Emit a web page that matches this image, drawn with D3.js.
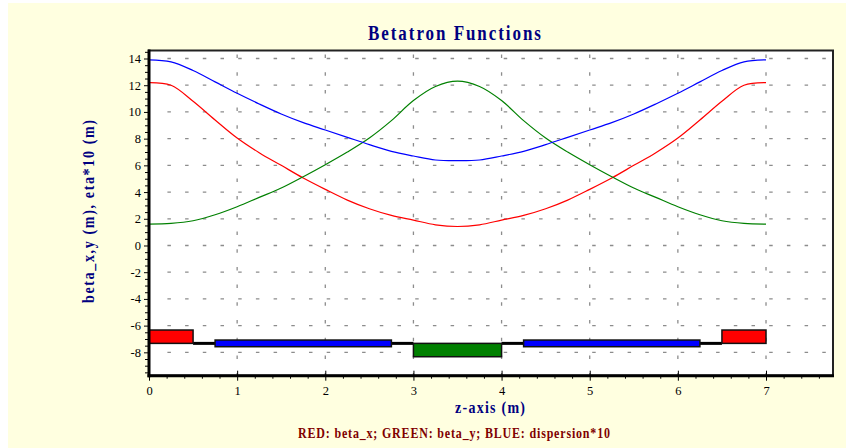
<!DOCTYPE html>
<html>
<head>
<meta charset="utf-8">
<script src="https://cdn.jsdelivr.net/npm/d3@7"></script>
<style>
  body { margin: 0; background: #fff; }
  svg { display: block; }
</style>
</head>
<body>
<div id="vis"></div>
<script>
// longitudinal position (m)
let zs = [0, 0.25, 0.5, 0.75, 1, 1.25, 1.5, 1.75, 2, 2.25, 2.5, 2.75, 3, 3.25, 3.5,
    3.75, 4, 4.25, 4.5, 4.75, 5, 5.25, 5.5, 5.75, 6, 6.25, 6.5, 6.75, 7];

// RED: beta_x
let betaX = [12.2, 12.0, 10.8, 9.4, 8.05, 6.95, 6.0, 5.05, 4.2, 3.4, 2.75, 2.25, 1.9, 1.55, 1.42,
    1.55, 1.9, 2.25, 2.75, 3.4, 4.2, 5.05, 6.0, 6.95, 8.05, 9.4, 10.8, 12.0, 12.2];

// GREEN: beta_y
let betaY = [1.6, 1.65, 1.85, 2.3, 2.9, 3.6, 4.3, 5.15, 6.05, 7.0, 8.05, 9.35, 10.85, 11.9, 12.3,
    11.9, 10.85, 9.35, 8.05, 7.0, 6.05, 5.15, 4.3, 3.6, 2.9, 2.3, 1.85, 1.65, 1.6];

// BLUE: dispersion*10
let disp = [13.9, 13.75, 13.1, 12.25, 11.4, 10.6, 9.85, 9.2, 8.65, 8.1, 7.55, 7.05, 6.7, 6.4, 6.35,
    6.4, 6.7, 7.05, 7.55, 8.1, 8.65, 9.2, 9.85, 10.6, 11.4, 12.25, 13.1, 13.75, 13.9];

// lattice elements drawn at the bottom
let elemStart = [0, 0.5, 0.75, 2.75, 3, 4, 4.25, 6.25, 6.5];
let elemEnd = [0.5, 0.75, 2.75, 3, 4, 4.25, 6.25, 6.5, 7];
let elemType = ['QF', 'D', 'B', 'D', 'QD', 'D', 'B', 'D', 'QF'];
let latticeBase = -7.33;

// tick values
let yMajor = [-8, -6, -4, -2, 0, 2, 4, 6, 8, 10, 12, 14];
let xMajor = [0, 1, 2, 3, 4, 5, 6, 7];

let W = 846, H = 448;

let svg = d3.select('#vis')
    .append('svg')
    .attr('width', W)
    .attr('height', H);

// light yellow panel
svg.append('rect')
    .attr('x', 8).attr('y', 3)
    .attr('width', W - 8).attr('height', H - 3)
    .attr('fill', '#ffffe0');

let x = d3.scaleLinear().domain([0, 7.76]).range([149, 833]);
let y = d3.scaleLinear().domain([-9.75, 14.6]).range([375.7, 50.5]);

// plot area
svg.append('rect')
    .attr('x', x(0)).attr('y', y(14.6))
    .attr('width', x(7.76) - x(0)).attr('height', y(-9.75) - y(14.6))
    .attr('fill', '#fff');

// grid (dashed)
let grid = svg.append('g')
    .attr('stroke', '#8c8c8c')
    .attr('stroke-width', 1.3)
    .attr('stroke-dasharray', '3.5,14.2');

grid.selectAll('line.h')
    .data(yMajor)
    .enter().append('line')
    .attr('class', 'h')
    .attr('x1', x(0) + 18.4).attr('x2', x(7.76))
    .attr('y1', d => y(d)).attr('y2', d => y(d));

grid.selectAll('line.v')
    .data(xMajor.slice(1))
    .enter().append('line')
    .attr('class', 'v')
    .attr('x1', d => x(d)).attr('x2', d => x(d))
    .attr('y1', y(14.6) + 4).attr('y2', y(-9.75));

// lattice: drifts, then magnets
let lattice = svg.append('g');
let idx = d3.range(elemType.length);

lattice.selectAll('line')
    .data(idx.filter(i => elemType[i] === 'D'))
    .enter().append('line')
    .attr('x1', i => x(elemStart[i])).attr('x2', i => x(elemEnd[i]))
    .attr('y1', y(latticeBase)).attr('y2', y(latticeBase))
    .attr('stroke', '#000')
    .attr('stroke-width', 3);

let elemTop = { QF: 1, QD: 0, B: 0.25 };
let elemBottom = { QF: 0, QD: -1, B: -0.25 };
let elemColor = { QF: '#ff0000', QD: '#008000', B: '#0000ff' };

lattice.selectAll('rect')
    .data(idx.filter(i => elemType[i] !== 'D'))
    .enter().append('rect')
    .attr('x', i => x(elemStart[i]))
    .attr('width', i => x(elemEnd[i]) - x(elemStart[i]))
    .attr('y', i => y(latticeBase + elemTop[elemType[i]]))
    .attr('height', i => y(latticeBase + elemBottom[elemType[i]]) - y(latticeBase + elemTop[elemType[i]]))
    .attr('fill', i => elemColor[elemType[i]])
    .attr('stroke', '#111')
    .attr('stroke-width', 1.5);

// curves
let line = d3.line()
    .x(d => x(d[0]))
    .y(d => y(d[1]))
    .curve(d3.curveCatmullRom.alpha(0.5));

let series = [
    { vals: betaX, color: '#ff0000' },
    { vals: betaY, color: '#008000' },
    { vals: disp, color: '#0000ff' }
];

svg.append('g')
    .selectAll('path')
    .data(series)
    .enter().append('path')
    .attr('fill', 'none')
    .attr('stroke', d => d.color)
    .attr('stroke-width', 1.2)
    .attr('d', d => line(zs.map((z, i) => [z, d.vals[i]])));

// frame
svg.append('rect')
    .attr('x', x(0)).attr('y', y(14.6))
    .attr('width', x(7.76) - x(0)).attr('height', y(-9.75) - y(14.6))
    .attr('fill', 'none')
    .attr('stroke', '#222')
    .attr('stroke-width', 2);

// y axis
let yMinor = d3.range(-9.5, 14.51, 0.5).filter(v => yMajor.indexOf(v) < 0);
svg.append('g')
    .attr('transform', 'translate(' + x(0) + ',0)')
    .call(d3.axisLeft(y).tickValues(yMinor).tickSize(4).tickFormat(''))
    .call(g => g.select('.domain').remove());

svg.append('g')
    .attr('transform', 'translate(' + x(0) + ',0)')
    .call(d3.axisLeft(y).tickValues(yMajor).tickSize(5).tickPadding(3).tickFormat(d => String(d)))
    .call(g => g.select('.domain').remove())
    .call(g => g.selectAll('text')
        .attr('font-family', 'Liberation Serif, serif')
        .attr('font-size', 12.5)
        .attr('fill', '#000'));

// x axis
let xMinor = d3.range(0.2, 7.7, 0.2).filter(v => Math.abs(v - Math.round(v)) > 0.01);
svg.append('g')
    .attr('transform', 'translate(0,' + y(-9.75) + ')')
    .call(d3.axisBottom(x).tickValues(xMinor).tickSize(3).tickFormat(''))
    .call(g => g.select('.domain').remove());

let xAx = svg.append('g')
    .attr('transform', 'translate(0,' + y(-9.75) + ')')
    .call(d3.axisBottom(x).tickValues(xMajor).tickSizeInner(5).tickSizeOuter(0).tickPadding(5).tickFormat(d => String(d)))
    .call(g => g.select('.domain').remove());
xAx.selectAll('.tick line').attr('y1', -5);
xAx.selectAll('text')
    .attr('font-family', 'Liberation Serif, serif')
    .attr('font-size', 12.5)
    .attr('fill', '#000');

// thick left and bottom axis lines
svg.append('line')
    .attr('x1', x(0)).attr('x2', x(0))
    .attr('y1', y(14.6) - 1).attr('y2', y(-9.75) + 1.5)
    .attr('stroke', '#000').attr('stroke-width', 3);
svg.append('line')
    .attr('x1', x(0) - 1.5).attr('x2', x(7.76) + 1)
    .attr('y1', y(-9.75)).attr('y2', y(-9.75))
    .attr('stroke', '#000').attr('stroke-width', 3);

// titles: narrow, tall, letter-spaced bold serif
function label(tx, ty, rot, len, size, sy, color, str) {
    svg.append('g')
        .attr('transform', 'translate(' + tx + ',' + ty + ') rotate(' + rot + ') scale(1,' + sy + ')')
        .append('text')
        .attr('textLength', len)
        .attr('lengthAdjust', 'spacing')
        .attr('font-family', 'Liberation Serif, serif')
        .attr('font-weight', 'bold')
        .attr('font-size', size)
        .attr('fill', color)
        .text(str);
}

label(368, 40, 0, 173, 17, 1.25, '#000080', 'Betatron Functions');
label(455, 413, 0, 70, 14, 1.15, '#000080', 'z-axis (m)');
label(94, 303, -90, 183, 14, 1.15, '#000080', 'beta_x,y (m), eta*10 (m)');
label(298, 438, 0, 312, 12, 1.15, '#800000', 'RED: beta_x; GREEN: beta_y; BLUE: dispersion*10');
</script>
</body>
</html>
